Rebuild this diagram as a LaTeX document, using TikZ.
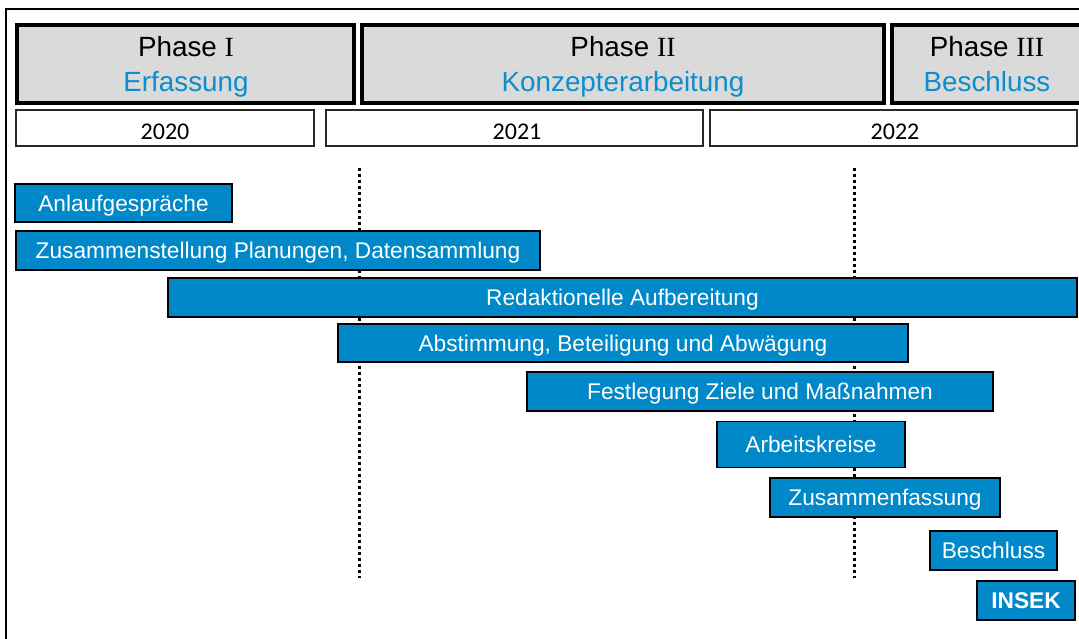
\documentclass[tikz,border=0pt]{standalone}
\usepackage{fontspec}
\setmainfont{Liberation Sans}
\newfontfamily\yearfont{Carlito}
\newfontfamily\romfont{Liberation Serif}
\definecolor{barblue}{RGB}{0,136,200}
\definecolor{headblue}{RGB}{10,142,206}
\definecolor{headgray}{RGB}{218,218,218}
\definecolor{framegray}{RGB}{40,40,40}
\tikzset{
  phasebox/.style={draw=black, line width=3.5pt, fill=headgray, inner sep=0pt},
  phasetext/.style={align=center, font=\fontsize{27.8}{34.5}\selectfont, inner sep=0pt},
  yearbox/.style={draw=framegray, line width=1.3pt, fill=white, inner sep=0pt},
  yeartext/.style={font=\yearfont\fontsize{24}{28}\selectfont, inner sep=0pt, text height=15pt, text depth=0pt},
  bar/.style={draw=black, line width=1.6pt, fill=barblue, text=white, inner sep=0pt, text height=16.2pt, text depth=0pt, font=\fontsize{22.7}{26}\selectfont},
  milestone/.style={draw=black, line width=3pt, dash pattern=on 3pt off 3pt},
}
\begin{document}
\begin{tikzpicture}[x=1pt,y=-1pt]
\useasboundingbox (0,0) rectangle (1079,638);
\clip (0,0) rectangle (1079,638);
% outer frame
\draw[line width=2pt, black] (6,640) -- (6,9) -- (1085,9);
% phase headers
\node[phasebox, minimum width=337, minimum height=78] (p1) at (185.5,64) {};
\node[phasebox, minimum width=522, minimum height=78] (p2) at (623,64) {};
\node[phasebox, minimum width=210, minimum height=78] (p3) at (997,64) {};
\node[phasetext] (p1t) at (186,67) {Phase {\romfont I}\strut\\\textcolor{headblue}{Erfassung}\strut};
\node[phasetext] (p2t) at (623,67) {Phase {\romfont II}\strut\\\textcolor{headblue}{Konzepterarbeitung}\strut};
\node[phasetext] (p3t) at (987,67) {Phase {\romfont III}\strut\\\textcolor{headblue}{Beschluss}\strut};
% year boxes
\node[yearbox, minimum width=298, minimum height=36] (y1) at (165,128) {};
\node[yearbox, minimum width=377, minimum height=36] (y2) at (514.5,128) {};
\node[yearbox, minimum width=367, minimum height=36] (y3) at (893.5,128) {};
\node[yeartext] (y1t) at (165,131.5) {2020};
\node[yeartext] (y2t) at (517,131.5) {2021};
\node[yeartext] (y3t) at (895,131.5) {2022};
% milestone lines
\coordinate (m1top) at (359,168);
\coordinate (m1bot) at (359,578);
\coordinate (m2top) at (854,168);
\coordinate (m2bot) at (854,578);
\draw[milestone] (m1top) -- (m1bot);
\draw[milestone] (m2top) -- (m2bot);
% bars
\node[bar, minimum width=217, minimum height=38] (b1) at (123.5,203) {Anlaufgespräche};
\node[bar, minimum width=524, minimum height=39] (b2) at (278,250.5) {Zusammenstellung Planungen, Datensammlung};
\node[bar, minimum width=909, minimum height=39] (b3) at (622.5,297.5) {Redaktionelle Aufbereitung};
\node[bar, minimum width=570, minimum height=38] (b4) at (623,343) {Abstimmung, Beteiligung und Abwägung};
\node[bar, minimum width=466, minimum height=39] (b5) at (760,391.5) {Festlegung Ziele und Maßnahmen};
\node[bar, minimum width=188, minimum height=46] (b6) at (811,444.5) {Arbeitskreise};
\node[bar, minimum width=230, minimum height=39] (b7) at (885,497.5) {Zusammenfassung};
\node[bar, minimum width=127, minimum height=39] (b8) at (993.5,550.5) {Beschluss};
\node[bar, minimum width=98, minimum height=39, font=\bfseries\fontsize{22.7}{26}\selectfont] (b9) at (1026,600.5) {INSEK};
\end{tikzpicture}
\end{document}
